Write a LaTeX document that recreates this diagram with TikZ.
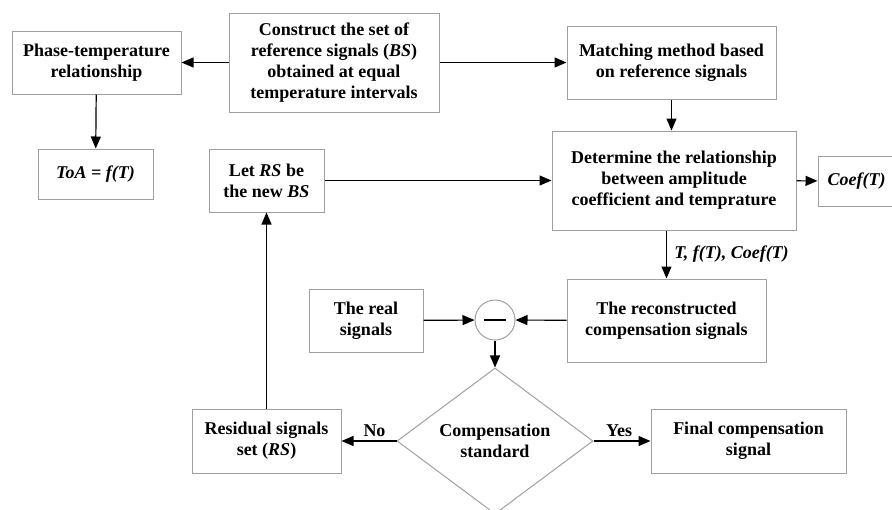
\documentclass[tikz,border=0pt]{standalone}
\usepackage{fontspec}
\setmainfont{Liberation Serif}
\usepackage{tikz}
\usetikzlibrary{positioning,shapes.geometric,arrows.meta}
\definecolor{boxgray}{RGB}{160,160,160}
\tikzstyle{process} = [rectangle, draw=boxgray, line width=1pt, inner sep=0pt, align=center, font=\bfseries\fontsize{18}{21}\selectfont]
\tikzstyle{decision} = [diamond, draw=boxgray, line width=1pt, inner sep=0pt, aspect=1.35, align=center, font=\bfseries\fontsize{18}{21}\selectfont]
\tikzstyle{lbl} = [font=\bfseries\fontsize{18}{21}\selectfont]
\tikzstyle{arrow} = [line width=1.2pt,->,>={Triangle[length=12pt,width=10pt]}]

\begin{document}
\begin{tikzpicture}[x=1pt, y=-1pt]
    \useasboundingbox (0,0) rectangle (892,509);
    \node[process, minimum width=169pt, minimum height=63pt] (Phase) at (96.5,62.5) {Phase-temperature\\relationship};
    \node[process, minimum width=210pt, minimum height=99pt] (Build) at (334,62.5) {Construct the set of\\reference signals (\textit{BS})\\obtained at equal\\temperature intervals};
    \node[process, minimum width=209pt, minimum height=73pt] (Match) at (671.5,62.5) {Matching method based\\on reference signals};
    \node[process, minimum width=115pt, minimum height=50pt] (ToA) at (95.5,174) {\textit{ToA = f(T)}};
    \node[process, minimum width=115pt, minimum height=63pt] (LetRS) at (266.5,180.5) {Let \textit{RS} be\\the new \textit{BS}};
    \node[process, minimum width=244pt, minimum height=99pt] (Rel) at (674,180.5) {Determine the relationship\\between amplitude\\coefficient and temprature};
    \node[process, minimum width=77pt, minimum height=50pt] (Coef) at (856.5,181) {\textit{Coef(T)}};
    \node[process, minimum width=114pt, minimum height=63pt] (Real) at (366,320.5) {The real\\signals};
    \node[circle, draw=boxgray, line width=1pt, minimum size=40pt, inner sep=0pt] (Sub) at (495,320) {\rule{22pt}{1.2pt}};
    \node[process, minimum width=199pt, minimum height=83pt] (Recon) at (666.5,320.5) {The reconstructed\\compensation signals};
    \node[decision, minimum width=196pt, minimum height=146pt] (Std) at (495,441) {Compensation\\standard};
    \node[process, minimum width=149pt, minimum height=64pt] (Res) at (266.5,441) {Residual signals\\set (\textit{RS})};
    \node[process, minimum width=195pt, minimum height=64pt] (Final) at (748.5,441) {Final compensation\\signal};

    \draw[arrow] (Build) -- (Phase);
    \draw[arrow] (Build) -- (Match);
    \draw[arrow] (Phase) -- (ToA);
    \draw[arrow] (Match.south) -- (Match.south |- Rel.north);
    \draw[arrow] (LetRS) -- (Rel);
    \draw[arrow] (Rel) -- (Coef);
    \draw[arrow] (Recon.north |- Rel.south) -- node[lbl, right=4pt] {\textit{T, f(T), Coef(T)}} (Recon.north);
    \draw[arrow] (Real) -- (Sub);
    \draw[arrow] (Recon) -- (Sub);
    \draw[arrow] (Sub) -- (Std);
    \draw[arrow] (Std) -- node[lbl, above, pos=0.4] {No} (Res);
    \draw[arrow] (Std) -- node[lbl, above, pos=0.45] {Yes} (Final);
    \draw[arrow] (Res) -- (LetRS);
\end{tikzpicture}
\end{document}
